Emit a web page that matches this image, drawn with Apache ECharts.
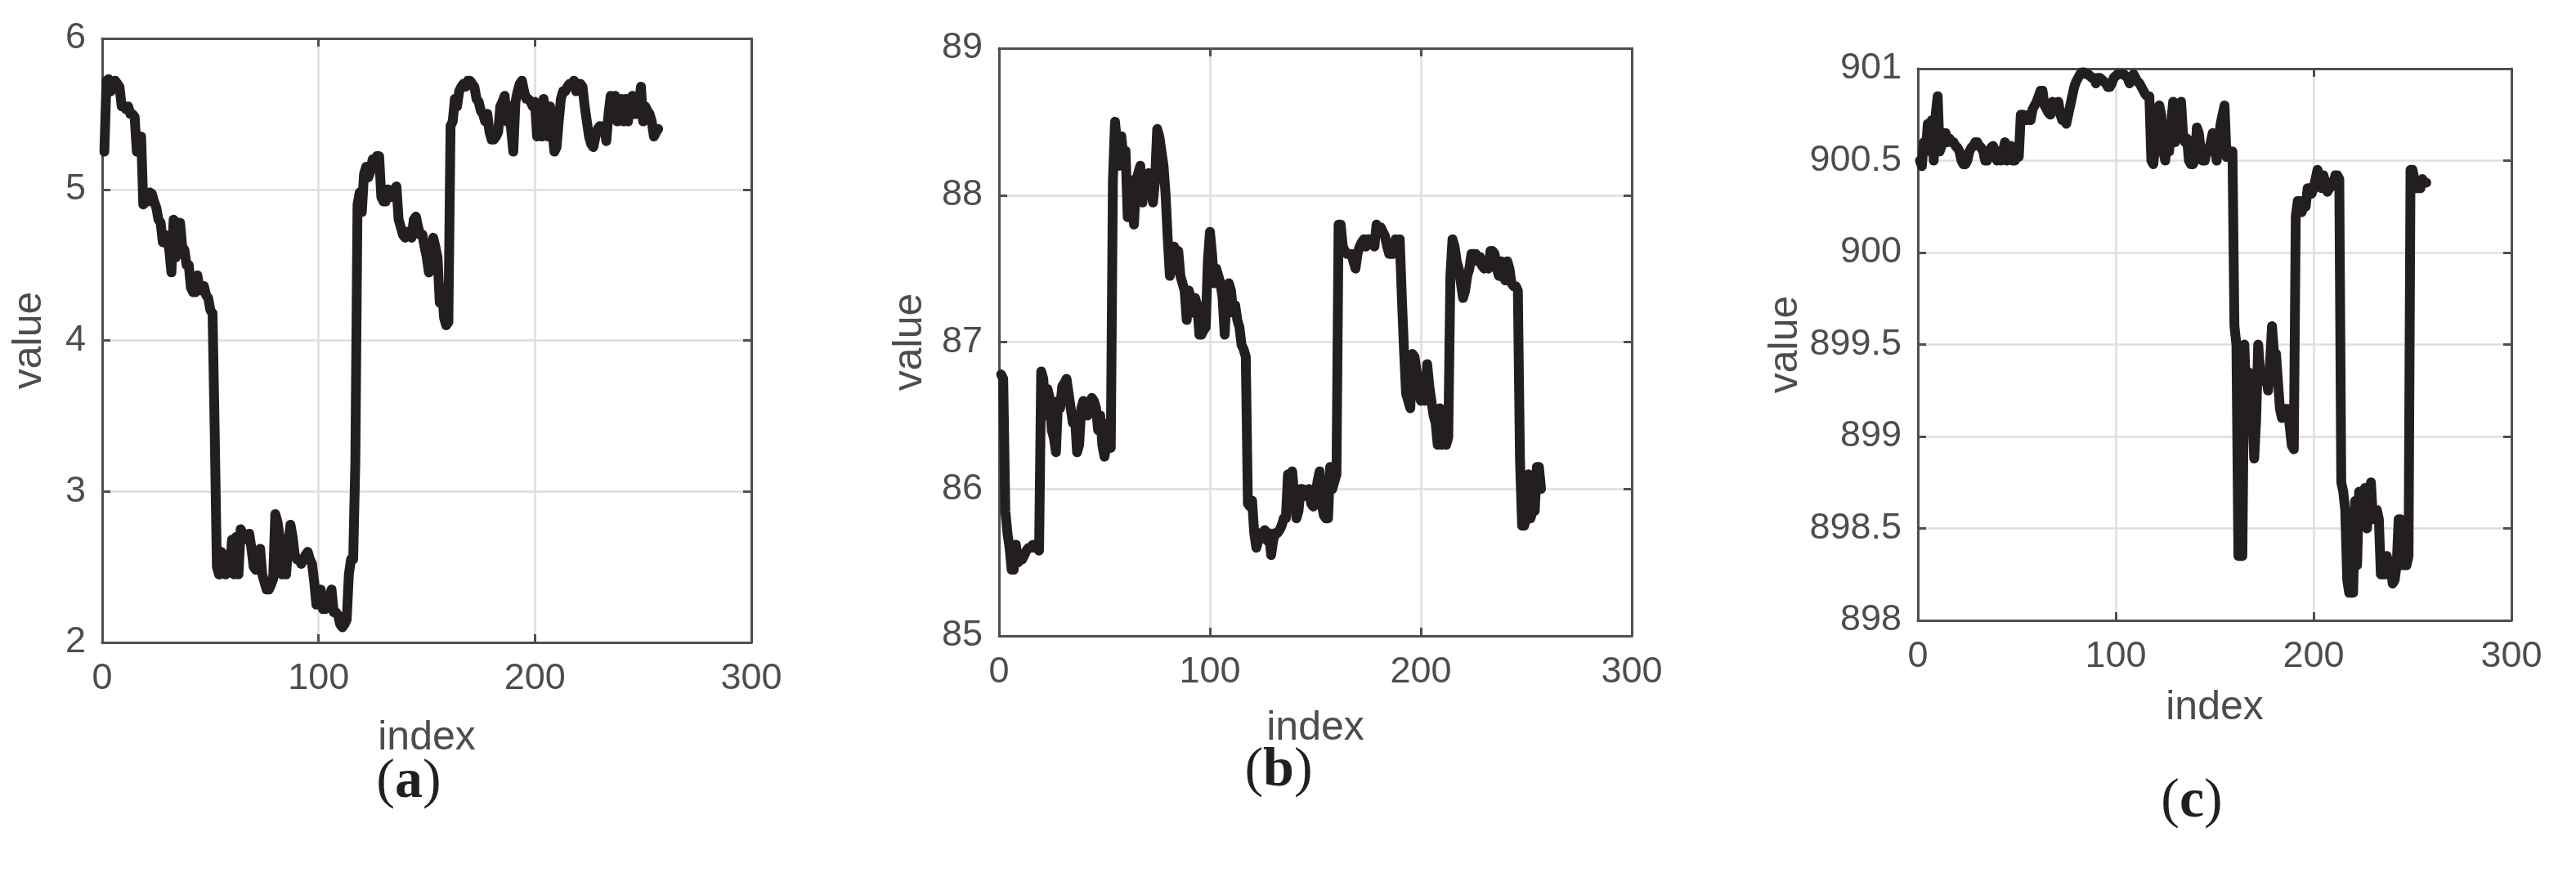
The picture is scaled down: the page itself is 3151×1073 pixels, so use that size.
<!DOCTYPE html>
<html>
<head>
<meta charset="utf-8">
<script src="https://cdn.jsdelivr.net/npm/echarts@6/dist/echarts.min.js"></script>
<style>
html,body{margin:0;padding:0;background:#fff;}
#chart{width:3151px;height:1073px;}
</style>
</head>
<body>
<div id="chart"></div>
<script>
// ---- data (index runs 1..N) ----
const xTicks = [0, 100, 200, 300];
const yTicksA = [2, 3, 4, 5, 6];
const yTicksB = [85, 86, 87, 88, 89];
const yTicksC = [898, 898.5, 899, 899.5, 900, 900.5, 901];
const panelLabels = ['a', 'b', 'c'];
const xName = 'index';
const yName = 'value';

const valuesA = [
5.25,5.72,5.73,5.65,5.70,5.72,5.70,5.68,5.55,5.55,
5.53,5.55,5.50,5.50,5.48,5.25,5.25,5.35,4.90,4.92,
4.92,4.98,4.97,4.92,4.88,4.80,4.78,4.65,4.70,4.68,
4.60,4.45,4.80,4.55,4.78,4.78,4.62,4.60,4.50,4.50,
4.35,4.32,4.32,4.43,4.35,4.33,4.36,4.30,4.28,4.20,
4.18,3.40,2.50,2.45,2.60,2.55,2.45,2.58,2.48,2.68,
2.45,2.70,2.45,2.75,2.72,2.70,2.68,2.72,2.62,2.50,
2.48,2.55,2.62,2.45,2.40,2.35,2.35,2.38,2.42,2.85,
2.80,2.70,2.45,2.60,2.45,2.65,2.78,2.70,2.58,2.55,
2.55,2.52,2.55,2.58,2.60,2.55,2.52,2.40,2.25,2.28,
2.35,2.22,2.22,2.23,2.30,2.35,2.20,2.20,2.18,2.12,
2.10,2.12,2.15,2.45,2.55,2.55,3.20,4.90,4.98,4.85,
5.10,5.15,5.08,5.12,5.20,5.15,5.22,5.22,4.95,4.92,
4.92,5.00,4.95,4.95,5.00,5.02,4.80,4.75,4.70,4.68,
4.72,4.70,4.68,4.80,4.82,4.75,4.70,4.70,4.62,4.55,
4.45,4.50,4.68,4.62,4.55,4.25,4.35,4.15,4.10,4.12,
5.42,5.45,5.60,5.55,5.65,5.68,5.70,5.68,5.72,5.72,
5.70,5.68,5.60,5.58,5.52,5.50,5.45,5.50,5.38,5.33,
5.33,5.35,5.38,5.55,5.58,5.62,5.45,5.55,5.40,5.25,
5.58,5.65,5.70,5.72,5.65,5.60,5.60,5.58,5.55,5.58,
5.35,5.55,5.35,5.60,5.50,5.35,5.55,5.40,5.25,5.28,
5.45,5.60,5.65,5.65,5.68,5.70,5.70,5.72,5.65,5.70,
5.70,5.68,5.55,5.45,5.35,5.30,5.28,5.35,5.40,5.42,
5.40,5.42,5.32,5.50,5.62,5.55,5.62,5.45,5.55,5.60,
5.45,5.60,5.45,5.55,5.62,5.50,5.50,5.55,5.68,5.45,
5.55,5.52,5.50,5.45,5.35,5.38,5.40
];

const valuesB = [
86.78,86.75,85.85,85.70,85.60,85.45,85.45,85.62,85.50,85.55,
85.52,85.55,85.58,85.60,85.60,85.62,85.60,85.60,85.58,86.80,
86.75,86.50,86.68,86.62,86.40,86.35,86.25,86.60,86.55,86.70,
86.72,86.75,86.65,86.55,86.45,86.50,86.25,86.30,86.55,86.60,
86.58,86.50,86.55,86.62,86.60,86.55,86.40,86.50,86.30,86.22,
86.30,86.45,86.28,88.10,88.50,88.35,88.20,88.40,88.25,88.30,
87.85,87.85,88.10,87.80,88.10,88.15,88.20,87.95,88.10,88.00,
88.15,88.05,87.95,88.10,88.45,88.40,88.30,88.20,88.00,87.70,
87.45,87.50,87.65,87.60,87.62,87.45,87.40,87.35,87.15,87.35,
87.30,87.20,87.30,87.25,87.05,87.05,87.08,87.10,87.55,87.75,
87.60,87.40,87.50,87.45,87.40,87.30,87.05,87.35,87.40,87.35,
87.20,87.25,87.15,87.10,86.98,86.95,86.90,85.90,85.88,85.92,
85.70,85.60,85.65,85.70,85.70,85.72,85.65,85.70,85.55,85.65,
85.70,85.70,85.72,85.75,85.80,85.80,86.10,86.10,86.12,85.95,
85.80,85.85,86.00,86.00,85.98,85.95,86.00,85.90,85.88,85.95,
86.05,86.12,85.90,85.82,85.80,85.80,86.15,86.00,86.05,86.10,
87.80,87.80,87.65,87.62,87.60,87.60,87.60,87.55,87.50,87.60,
87.65,87.68,87.70,87.65,87.70,87.70,87.68,87.65,87.80,87.78,
87.78,87.75,87.72,87.65,87.60,87.60,87.60,87.70,87.65,87.70,
87.30,86.95,86.65,86.60,86.55,86.92,86.90,86.80,86.65,86.60,
86.62,86.60,86.85,86.70,86.60,86.50,86.45,86.30,86.55,86.30,
86.50,86.30,86.35,87.45,87.70,87.65,87.55,87.50,87.40,87.30,
87.35,87.45,87.50,87.60,87.60,87.60,87.55,87.58,87.52,87.50,
87.55,87.50,87.62,87.62,87.60,87.50,87.45,87.55,87.45,87.42,
87.55,87.50,87.40,87.38,87.38,87.35,86.20,85.75,85.75,85.80,
86.10,85.80,85.85,85.85,86.15,86.15,86.00
];

const valuesC = [
900.50,900.47,900.60,900.55,900.70,900.55,900.72,900.50,900.75,900.85,
900.55,900.58,900.60,900.65,900.60,900.62,900.60,900.60,900.58,900.57,
900.55,900.50,900.48,900.48,900.50,900.55,900.57,900.58,900.60,900.60,
900.58,900.57,900.55,900.50,900.50,900.55,900.57,900.58,900.55,900.50,
900.55,900.50,900.55,900.60,900.50,900.55,900.58,900.50,900.50,900.52,
900.52,900.75,900.75,900.73,900.72,900.75,900.72,900.78,900.80,900.82,
900.85,900.88,900.88,900.80,900.78,900.76,900.75,900.82,900.80,900.80,
900.82,900.75,900.72,900.72,900.70,900.75,900.80,900.85,900.90,900.93,
900.95,900.97,900.98,900.98,900.97,900.97,900.96,900.95,900.95,900.92,
900.95,900.95,900.94,900.93,900.92,900.90,900.90,900.92,900.95,900.96,
900.97,900.97,900.97,900.97,900.96,900.95,900.92,900.95,900.97,900.95,
900.93,900.92,900.90,900.88,900.86,900.85,900.85,900.50,900.48,900.60,
900.70,900.80,900.75,900.55,900.50,900.60,900.55,900.70,900.82,900.60,
900.65,900.75,900.82,900.65,900.60,900.62,900.50,900.48,900.48,900.50,
900.68,900.65,900.55,900.50,900.50,900.55,900.55,900.60,900.65,900.60,
900.50,900.60,900.70,900.75,900.80,900.52,900.55,900.55,900.55,899.60,
899.50,898.35,898.35,898.35,899.50,899.20,899.35,899.25,899.15,898.88,
899.10,899.50,899.35,899.30,899.32,899.35,899.25,899.40,899.60,899.45,
899.45,899.30,899.15,899.10,899.15,899.15,899.15,899.05,898.95,898.93,
900.20,900.28,900.28,900.22,900.25,900.25,900.35,900.35,900.32,900.35,
900.40,900.45,900.40,900.35,900.42,900.38,900.33,900.35,900.36,900.38,
900.42,900.42,900.40,898.75,898.70,898.60,898.22,898.15,898.15,898.15,
898.65,898.30,898.70,898.55,898.70,898.72,898.50,898.65,898.75,898.55,
898.60,898.60,898.55,898.25,898.25,898.25,898.35,898.30,898.28,898.20,
898.22,898.30,898.55,898.55,898.30,898.30,898.30,898.35,900.45,900.45,
900.40,900.35,900.35,900.35,900.40,900.38,900.38
];

// ---- layout ----
const grids = [
  {left: 125, top: 47, width: 794, height: 739},
  {left: 1222, top: 59, width: 774, height: 719},
  {left: 2346, top: 84, width: 726, height: 675}
];
const yNameGaps = [64, 84, 134];
const xNameGaps = [92, 88, 82];
const labelPos = [[500, 957], [1564, 943], [2681, 981]];

const AXIS_COLOR = '#4f4f4f';
const TEXT_COLOR = '#4d4d4d';
const LINE_COLOR = '#231f20';
const FONT = '"Liberation Sans", Arial, Helvetica, sans-serif';
const SERIF = '"Liberation Serif", "DejaVu Serif", serif';

const ySets = [yTicksA, yTicksB, yTicksC];
const seriesVals = [valuesA, valuesB, valuesC];

const xAxes = [], yAxes = [], series = [], graphics = [];
for (let i = 0; i < 3; i++) {
  const yt = ySets[i];
  const yInt = yt[1] - yt[0];
  const common = {
    axisLine: {show: true, onZero: false, lineStyle: {color: AXIS_COLOR, width: 3}},
    axisTick: {show: true, inside: true, length: 10, lineStyle: {color: AXIS_COLOR, width: 3}}
  };
  xAxes.push(Object.assign({
    type: 'value', gridIndex: i, position: 'bottom',
    min: xTicks[0], max: xTicks[xTicks.length - 1], interval: xTicks[1] - xTicks[0],
    name: xName, nameLocation: 'middle', nameGap: xNameGaps[i],
    nameTextStyle: {fontSize: 50, color: TEXT_COLOR, fontFamily: FONT},
    axisLabel: {fontSize: 45, color: TEXT_COLOR, fontFamily: FONT, margin: 22},
    splitLine: {show: true, lineStyle: {color: '#dedede', width: 2.5}}
  }, common));
  xAxes.push(Object.assign({
    type: 'value', gridIndex: i, position: 'top',
    min: xTicks[0], max: xTicks[xTicks.length - 1], interval: xTicks[1] - xTicks[0],
    axisLabel: {show: false}, splitLine: {show: false}
  }, common));
  yAxes.push(Object.assign({
    type: 'value', gridIndex: i, position: 'left',
    min: yt[0], max: yt[yt.length - 1], interval: yInt,
    name: yName, nameLocation: 'middle', nameGap: yNameGaps[i],
    nameTextStyle: {fontSize: 50, color: TEXT_COLOR, fontFamily: FONT},
    axisLabel: {fontSize: 45, color: TEXT_COLOR, fontFamily: FONT, margin: 20},
    splitLine: {show: true, lineStyle: {color: '#dedede', width: 2.5}}
  }, common));
  yAxes.push(Object.assign({
    type: 'value', gridIndex: i, position: 'right',
    min: yt[0], max: yt[yt.length - 1], interval: yInt,
    axisLabel: {show: false}, splitLine: {show: false}
  }, common));
  series.push({
    type: 'line',
    xAxisIndex: 2 * i, yAxisIndex: 2 * i,
    data: seriesVals[i].map((v, k) => [k + 1, v]),
    showSymbol: false, symbol: 'none',
    lineStyle: {color: LINE_COLOR, width: 12, cap: 'round', join: 'round'},
    clip: true, silent: true
  });
  graphics.push({
    type: 'text', x: labelPos[i][0], y: labelPos[i][1],
    style: {
      text: '(' + '{b|' + panelLabels[i] + '})',
      rich: {b: {fontWeight: 'bold', fontSize: 68, fontFamily: SERIF, fill: '#231f20'}},
      fontSize: 68, fontFamily: SERIF, fill: '#231f20',
      align: 'center', verticalAlign: 'middle'
    }
  });
}

const chart = echarts.init(document.getElementById('chart'), null, {renderer: 'canvas'});
chart.setOption({
  animation: false,
  backgroundColor: '#ffffff',
  grid: grids.map(g => Object.assign({containLabel: false}, g)),
  xAxis: xAxes,
  yAxis: yAxes,
  series: series,
  graphic: graphics
});
</script>
</body>
</html>
